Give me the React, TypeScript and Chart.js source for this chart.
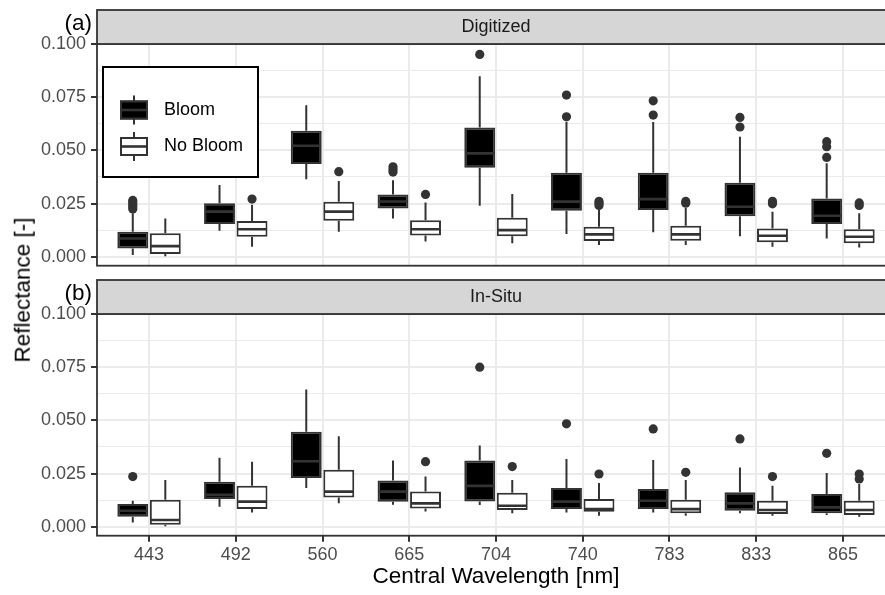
import React, { useEffect, useRef } from 'react';
import { Chart, registerables } from 'chart.js';
Chart.register(...registerables);

// ---------- data ----------
const wavelengths = ['443', '492', '560', '665', '704', '740', '783', '833', '865'];
const seriesLabels = ['Bloom', 'No Bloom'];
const panelTitles = ['Digitized', 'In-Situ'];
const panelTags = ['(a)', '(b)'];
const yMajorTicks = [0, 0.025, 0.05, 0.075, 0.1];
const yMinorTicks = [0.0125, 0.0375, 0.0625, 0.0875];

// [lower whisker, Q1, median, Q3, upper whisker]
const digitizedBloom = [
  [0.0008, 0.0039, 0.0086, 0.0118, 0.0205],
  [0.0122, 0.0154, 0.0212, 0.0251, 0.0337],
  [0.0364, 0.0436, 0.0522, 0.0592, 0.0712],
  [0.018, 0.0227, 0.026, 0.0293, 0.036],
  [0.024, 0.0418, 0.0486, 0.0608, 0.0849],
  [0.0107, 0.0216, 0.0259, 0.0395, 0.0635],
  [0.0115, 0.022, 0.0271, 0.0395, 0.0633],
  [0.0097, 0.0191, 0.0235, 0.0348, 0.0564],
  [0.0086, 0.0154, 0.0193, 0.0274, 0.0439],
];
const digitizedBloomOutliers = [
  [0.0225, 0.0235, 0.0245, 0.0255, 0.0265],
  [],
  [],
  [0.0398, 0.041, 0.0423],
  [0.0951],
  [0.0658, 0.076],
  [0.0666, 0.0733],
  [0.061, 0.0655],
  [0.0467, 0.0517, 0.0541],
];
const digitizedNoBloom = [
  [0.0003, 0.0013, 0.005, 0.011, 0.018],
  [0.0047, 0.0094, 0.0129, 0.0168, 0.0245],
  [0.0118, 0.0169, 0.0212, 0.0259, 0.0356],
  [0.0072, 0.01, 0.0129, 0.0172, 0.0255],
  [0.0063, 0.0097, 0.0125, 0.0183, 0.0295],
  [0.0055, 0.0074, 0.0105, 0.0141, 0.022],
  [0.0055, 0.0075, 0.0105, 0.0146, 0.0229],
  [0.0047, 0.0068, 0.0099, 0.0133, 0.0212],
  [0.0044, 0.0063, 0.0094, 0.0129, 0.0205],
];
const digitizedNoBloomOutliers = [
  [],
  [0.0271],
  [0.04],
  [0.0293],
  [],
  [0.0241, 0.0251, 0.0261],
  [0.0252, 0.026],
  [0.0249, 0.0261],
  [0.0241, 0.0253],
];
const inSituBloom = [
  [0.002, 0.0047, 0.0075, 0.0107, 0.0122],
  [0.0094, 0.013, 0.015, 0.0212, 0.0324],
  [0.0182, 0.0229, 0.0308, 0.0447, 0.0645],
  [0.0104, 0.0118, 0.0165, 0.0217, 0.0311],
  [0.0102, 0.0119, 0.0192, 0.0311, 0.0382],
  [0.0067, 0.0083, 0.0118, 0.0182, 0.0319],
  [0.0067, 0.0083, 0.0122, 0.0178, 0.0314],
  [0.0063, 0.0075, 0.011, 0.0162, 0.0279],
  [0.0055, 0.0063, 0.0091, 0.0154, 0.0253],
];
const inSituBloomOutliers = [
  [0.0236],
  [],
  [],
  [],
  [0.075],
  [0.0484],
  [0.046],
  [0.0413],
  [0.0345],
];
const inSituNoBloom = [
  [0.0003, 0.0009, 0.0032, 0.0127, 0.022],
  [0.0067, 0.0083, 0.0118, 0.0193, 0.0306],
  [0.011, 0.0138, 0.0165, 0.0268, 0.0425],
  [0.0072, 0.0086, 0.011, 0.0166, 0.0236],
  [0.0063, 0.0079, 0.0099, 0.016, 0.022],
  [0.0052, 0.0071, 0.0083, 0.013, 0.0206],
  [0.0052, 0.0063, 0.0083, 0.0127, 0.022],
  [0.0052, 0.006, 0.0079, 0.0122, 0.0193],
  [0.0047, 0.0055, 0.0079, 0.0122, 0.0201],
];
const inSituNoBloomOutliers = [
  [],
  [],
  [],
  [0.0306],
  [0.0283],
  [0.0248],
  [0.0256],
  [0.0236],
  [0.0225, 0.0248],
];

// ---------- styling ----------
const FONT = "'Liberation Sans', Arial, Helvetica, sans-serif";
const INK = '#333333';
const GRID = '#EBEBEB';
const STRIP = '#D6D6D6';
const FILLS = ['#000000', '#FFFFFF'];
const allYTicks = [...yMajorTicks, ...yMinorTicks].sort((a, b) => a - b);
const isMajor = (v: number) => yMajorTicks.some((t) => Math.abs(t - v) < 1e-9);

const line = (ctx: CanvasRenderingContext2D, x1: number, y1: number, x2: number, y2: number) => {
  ctx.beginPath();
  ctx.moveTo(x1, y1);
  ctx.lineTo(x2, y2);
  ctx.stroke();
};

const decorPlugin = {
  id: 'facetDecor',
  afterDatasetsDraw(chart: any) {
    const ctx: CanvasRenderingContext2D = chart.ctx;
    const ys = chart.scales.y;
    const a = chart.chartArea;
    ctx.save();
    ctx.beginPath();
    ctx.rect(a.left, a.top, a.right - a.left, a.bottom - a.top);
    ctx.clip();
    chart.data.datasets.forEach((ds: any, d: number) => {
      const meta = chart.getDatasetMeta(d);
      ds.stats.forEach((s: number[], j: number) => {
        const el = meta.data[j];
        const x = el.x;
        const w = el.width;
        ctx.strokeStyle = INK;
        ctx.lineWidth = 2;
        ctx.lineCap = 'butt';
        line(ctx, x, ys.getPixelForValue(s[3]), x, ys.getPixelForValue(s[4]));
        line(ctx, x, ys.getPixelForValue(s[1]), x, ys.getPixelForValue(s[0]));
        ctx.lineWidth = 2.6;
        const ym = ys.getPixelForValue(s[2]);
        line(ctx, x - w / 2 + 1, ym, x + w / 2 - 1, ym);
        ctx.fillStyle = INK;
        (ds.outliers[j] || []).forEach((v: number) => {
          ctx.beginPath();
          ctx.arc(x, ys.getPixelForValue(v), 4.6, 0, Math.PI * 2);
          ctx.fill();
        });
      });
    });
    ctx.restore();
  },
  afterDraw(chart: any, _args: any, opts: any) {
    const ctx: CanvasRenderingContext2D = chart.ctx;
    const a = chart.chartArea;
    ctx.save();
    // panel border
    ctx.strokeStyle = INK;
    ctx.lineWidth = 1.8;
    ctx.strokeRect(a.left, a.top, a.right - a.left, a.bottom - a.top);
    // strip
    const sh = 34;
    ctx.fillStyle = STRIP;
    ctx.fillRect(a.left, a.top - sh, a.right - a.left, sh);
    ctx.strokeRect(a.left, a.top - sh, a.right - a.left, sh);
    ctx.fillStyle = '#1A1A1A';
    ctx.font = `18px ${FONT}`;
    ctx.textAlign = 'center';
    ctx.textBaseline = 'middle';
    ctx.fillText(opts.title, (a.left + a.right) / 2, a.top - sh / 2);
    // tag
    ctx.fillStyle = '#000';
    ctx.font = `22.5px ${FONT}`;
    ctx.textAlign = 'right';
    ctx.fillText(opts.tag, a.left - 5, a.top - sh / 2 - 3);
    // legend
    if (opts.legend) {
      const lx = 103, ly = 67, lw = 155, lh = 110;
      ctx.fillStyle = '#fff';
      ctx.fillRect(lx, ly, lw, lh);
      ctx.strokeStyle = '#000';
      ctx.lineWidth = 2;
      ctx.strokeRect(lx, ly, lw, lh);
      chart.data.datasets.forEach((ds: any, d: number) => {
        const cy = ly + 43 + d * 36.5;
        const kx = lx + 17, kw = 28;
        ctx.strokeStyle = INK;
        ctx.lineWidth = 2;
        line(ctx, kx + kw / 2, cy - 14.5, kx + kw / 2, cy + 14.5);
        ctx.fillStyle = ds.backgroundColor;
        ctx.fillRect(kx, cy - 9.5, kw, 19);
        ctx.strokeRect(kx + 1, cy - 8.5, kw - 2, 17);
        ctx.lineWidth = 2.6;
        line(ctx, kx + 1, cy, kx + kw - 1, cy);
        ctx.fillStyle = '#000';
        ctx.font = `18px ${FONT}`;
        ctx.textAlign = 'left';
        ctx.textBaseline = 'middle';
        ctx.fillText(ds.label, lx + 61, cy);
      });
    }
    ctx.restore();
  },
};

function makeConfig(panel: number): any {
  const stats = panel === 0 ? [digitizedBloom, digitizedNoBloom] : [inSituBloom, inSituNoBloom];
  const outl = panel === 0
    ? [digitizedBloomOutliers, digitizedNoBloomOutliers]
    : [inSituBloomOutliers, inSituNoBloomOutliers];
  const bottom = panel === 1;
  return {
    type: 'bar',
    data: {
      datasets: seriesLabels.map((label, d) => ({
        label,
        data: stats[d].map((s, i) => ({ x: i, y: [s[1], s[3]] })),
        stats: stats[d],
        outliers: outl[d],
        backgroundColor: FILLS[d],
        borderColor: INK,
        borderWidth: 2,
        borderSkipped: false,
        barPercentage: 0.95,
        categoryPercentage: 0.75,
      })),
    },
    options: {
      responsive: false,
      animation: false,
      events: [],
      layout: { autoPadding: false, padding: { top: 44, left: 0, right: 0, bottom: bottom ? 0 : 4.3 } },
      plugins: {
        legend: { display: false },
        tooltip: { enabled: false },
        facetDecor: { title: panelTitles[panel], tag: panelTags[panel], legend: panel === 0 },
      },
      scales: {
        x: {
          type: 'linear',
          min: -0.6,
          max: 8.6,
          offset: false,
          afterBuildTicks: (s: any) => {
            s.ticks = wavelengths.map((_, i) => ({ value: i }));
          },
          afterFit: (s: any) => {
            s.height = bottom ? 59.3 : 0;
            s.paddingLeft = 0;
            s.paddingRight = 0;
            s.paddingTop = 0;
            s.paddingBottom = 0;
          },
          ticks: {
            display: bottom,
            autoSkip: false,
            maxRotation: 0,
            padding: 3,
            color: '#4D4D4D',
            font: { family: FONT, size: 18 },
            callback: (_v: any, i: number) => wavelengths[i],
          },
          grid: {
            offset: false,
            color: GRID,
            lineWidth: 2,
            drawTicks: bottom,
            tickLength: 6,
            tickColor: INK,
            tickWidth: 2,
          },
          border: { display: false },
          title: {
            display: bottom,
            text: 'Central Wavelength [nm]',
            color: '#000',
            font: { family: FONT, size: 22.5 },
            padding: { top: 0, bottom: 4.5 },
          },
        },
        y: {
          type: 'linear',
          min: -0.0042,
          max: 0.1,
          afterBuildTicks: (s: any) => {
            s.ticks = allYTicks.map((v) => ({ value: v }));
          },
          afterFit: (s: any) => {
            s.width = 97;
            s.paddingTop = 0;
            s.paddingBottom = 0;
            s.paddingLeft = 0;
            s.paddingRight = 0;
          },
          ticks: {
            padding: 5,
            color: '#4D4D4D',
            font: { family: FONT, size: 18 },
            callback: (v: number) => (isMajor(v) ? v.toFixed(3) : ''),
          },
          grid: {
            color: GRID,
            lineWidth: (c: any) => (isMajor(c.tick.value) ? 2 : 1),
            tickLength: 6,
            tickWidth: 2,
            tickColor: (c: any) => (isMajor(c.tick.value) ? INK : 'rgba(0,0,0,0)'),
          },
          border: { display: false },
        },
      },
    },
    plugins: [decorPlugin],
  };
}

export default function App() {
  const refA = useRef<HTMLCanvasElement>(null);
  const refB = useRef<HTMLCanvasElement>(null);
  useEffect(() => {
    const a = new Chart(refA.current as HTMLCanvasElement, makeConfig(0));
    const b = new Chart(refB.current as HTMLCanvasElement, makeConfig(1));
    return () => {
      a.destroy();
      b.destroy();
    };
  }, []);
  return (
    <div style={{ position: 'absolute', left: 0, top: 0, width: 885, height: 595, overflow: 'hidden', background: '#fff' }}>
      <div style={{ position: 'absolute', left: 0, top: 0, width: 895, height: 270 }}>
        <canvas ref={refA} width={895} height={270} style={{ display: 'block' }} />
      </div>
      <div style={{ position: 'absolute', left: 0, top: 270, width: 895, height: 325 }}>
        <canvas ref={refB} width={895} height={325} style={{ display: 'block' }} />
      </div>
      <div
        style={{
          position: 'absolute',
          left: 22.5,
          top: 290,
          transform: 'translate(-50%, -50%) rotate(-90deg)',
          whiteSpace: 'nowrap',
          fontFamily: FONT,
          fontSize: 22.5,
          lineHeight: 1,
          color: '#000',
        }}
      >
        Reflectance [-]
      </div>
    </div>
  );
}
